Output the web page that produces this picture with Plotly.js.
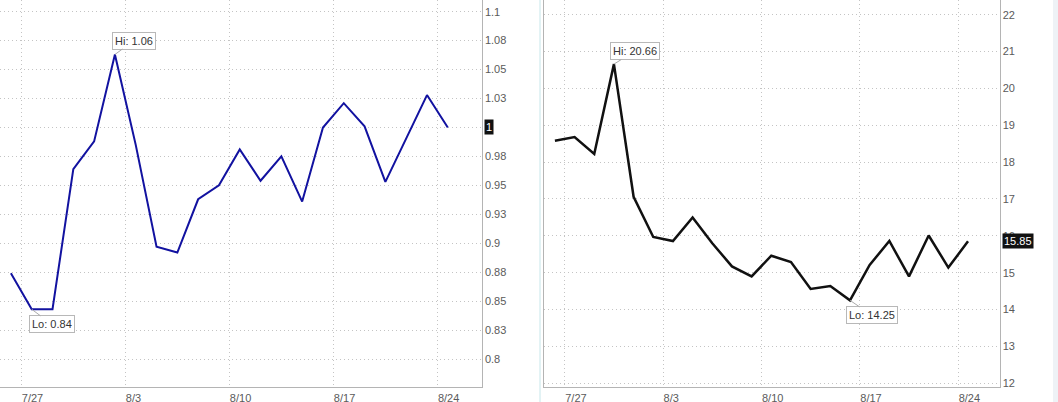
<!DOCTYPE html>
<html>
<head>
<meta charset="utf-8">
<script src="https://cdn.plot.ly/plotly-3.0.1.min.js"></script>
<style>html,body{margin:0;padding:0;background:#fff;}#chart{width:1058px;height:402px;}</style>
</head>
<body>
<div id="chart"></div>
<script>
// ---- data ----
const dates = ['7/24','7/27','7/28','7/29','7/30','7/31','8/3','8/4','8/5','8/6','8/7','8/10','8/11','8/12','8/13','8/14','8/17','8/18','8/19','8/20','8/21','8/24'];
const leftValues = [0.874,0.843,0.843,0.964,0.988,1.063,0.985,0.897,0.892,0.938,0.950,0.981,0.954,0.975,0.936,1.000,1.021,1.001,0.953,0.991,1.028,1.000];
const rightValues = [18.58,18.68,18.22,20.66,17.06,15.97,15.86,16.50,15.80,15.17,14.90,15.46,15.29,14.56,14.64,14.25,15.21,15.86,14.90,16.01,15.14,15.85];
const xTickLabels = ['7/27','8/3','8/10','8/17','8/24'];
const leftYTickVals = [0.8,0.825,0.85,0.875,0.9,0.925,0.95,0.975,1.0,1.025,1.05,1.075,1.1];
const leftYTickText = ['0.8','0.83','0.85','0.88','0.9','0.93','0.95','0.98','1','1.03','1.05','1.08','1.1'];
const rightYTickVals = [12,13,14,15,16,17,18,19,20,21,22];
const rightYTickText = ['12','13','14','15','16','17','18','19','20','21','22'];

// ---- build ----
const xs = dates.map((d, i) => i);
const tickVals = xTickLabels.map(t => dates.indexOf(t) - 0.5);
const fmt = v => parseFloat(v.toFixed(2)).toString();

function extremes(vals) {
  let hi = 0, lo = 0;
  vals.forEach((v, i) => { if (v > vals[hi]) hi = i; if (v < vals[lo]) lo = i; });
  return {hi, lo};
}
const eL = extremes(leftValues), eR = extremes(rightValues);

const font = {family: '"Liberation Sans", Arial, sans-serif', size: 11, color: '#5a5a5a'};
const gridColor = '#c4c4c4';
const lineColor = '#b4b4b4';

const traces = [
  {x: xs, y: leftValues, type: 'scatter', mode: 'lines', line: {color: '#1212a0', width: 2}, xaxis: 'x', yaxis: 'y', hoverinfo: 'skip'},
  {x: xs, y: rightValues, type: 'scatter', mode: 'lines', line: {color: '#111111', width: 2.5}, xaxis: 'x2', yaxis: 'y2', hoverinfo: 'skip'}
];

const xCommon = {
  tickmode: 'array', tickvals: tickVals, ticktext: xTickLabels,
  ticklabelposition: 'outside right',
  showgrid: true, gridcolor: gridColor, griddash: '1px,3px', gridwidth: 1,
  showline: true, linecolor: lineColor, linewidth: 1,
  zeroline: false, ticks: '', tickfont: font, fixedrange: true
};
const yCommon = {
  tickmode: 'array', side: 'right',
  showgrid: true, gridcolor: gridColor, griddash: '1px,3px', gridwidth: 1,
  showline: true, linecolor: lineColor, linewidth: 1,
  zeroline: false, ticks: '', tickfont: font, fixedrange: true,
  domain: [14.7 / 402, 1]
};

function hiLo(xref, yref, idx, vals, label, ax, ay) {
  return {
    xref: xref, yref: yref, x: idx, y: vals[idx],
    text: label + ': ' + fmt(vals[idx]),
    showarrow: true, arrowhead: 0, arrowwidth: 1, arrowcolor: '#aaaaaa', standoff: 0,
    ax: ax, ay: ay,
    bgcolor: '#ffffff', bordercolor: '#b8b8b8', borderwidth: 1, borderpad: 2,
    font: {family: font.family, size: 11, color: '#333'}
  };
}
function badge(xref, yref, vals) {
  const v = vals[vals.length - 1];
  return {
    xref: xref + ' domain', yref: yref, x: 1, y: v, xanchor: 'left', yanchor: 'middle', xshift: 2,
    text: fmt(v), showarrow: false, bgcolor: '#111111', borderpad: 1,
    font: {family: font.family, size: 11, color: '#ffffff'}
  };
}

const layout = {
  width: 1058, height: 402,
  margin: {l: 0, r: 0, t: 0, b: 0},
  paper_bgcolor: '#ffffff', plot_bgcolor: '#ffffff',
  showlegend: false,
  font: font,
  xaxis: Object.assign({}, xCommon, {domain: [0, 481.7 / 1058], range: [-0.524, 22.63], anchor: 'y'}),
  yaxis: Object.assign({}, yCommon, {range: [0.7756, 1.1101], tickvals: leftYTickVals, ticktext: leftYTickText, anchor: 'x'}),
  xaxis2: Object.assign({}, xCommon, {domain: [543.5 / 1058, 999.5 / 1058], range: [-0.58, 22.6], anchor: 'y2'}),
  yaxis2: Object.assign({}, yCommon, {range: [11.89, 22.4], tickvals: rightYTickVals, ticktext: rightYTickText, anchor: 'x2', mirror: true}),
  annotations: [
    hiLo('x', 'y', eL.hi, leftValues, 'Hi', 19, -14),
    hiLo('x', 'y', eL.lo, leftValues, 'Lo', 20, 15),
    hiLo('x2', 'y2', eR.hi, rightValues, 'Hi', 21, -13),
    hiLo('x2', 'y2', eR.lo, rightValues, 'Lo', 22, 15),
    badge('x', 'y', leftValues),
    badge('x2', 'y2', rightValues)
  ],
  shapes: [
    {type: 'line', xref: 'paper', yref: 'paper', x0: 540 / 1058, x1: 540 / 1058, y0: 0, y1: 1, line: {color: '#c6e6ea', width: 1}},
    {type: 'rect', xref: 'paper', yref: 'paper', x0: 1053 / 1058, x1: 1, y0: 0, y1: 1, line: {width: 0}, fillcolor: '#eef2f6', layer: 'below'}
  ]
};

Plotly.newPlot('chart', traces, layout, {displayModeBar: false, staticPlot: true});
</script>
</body>
</html>
